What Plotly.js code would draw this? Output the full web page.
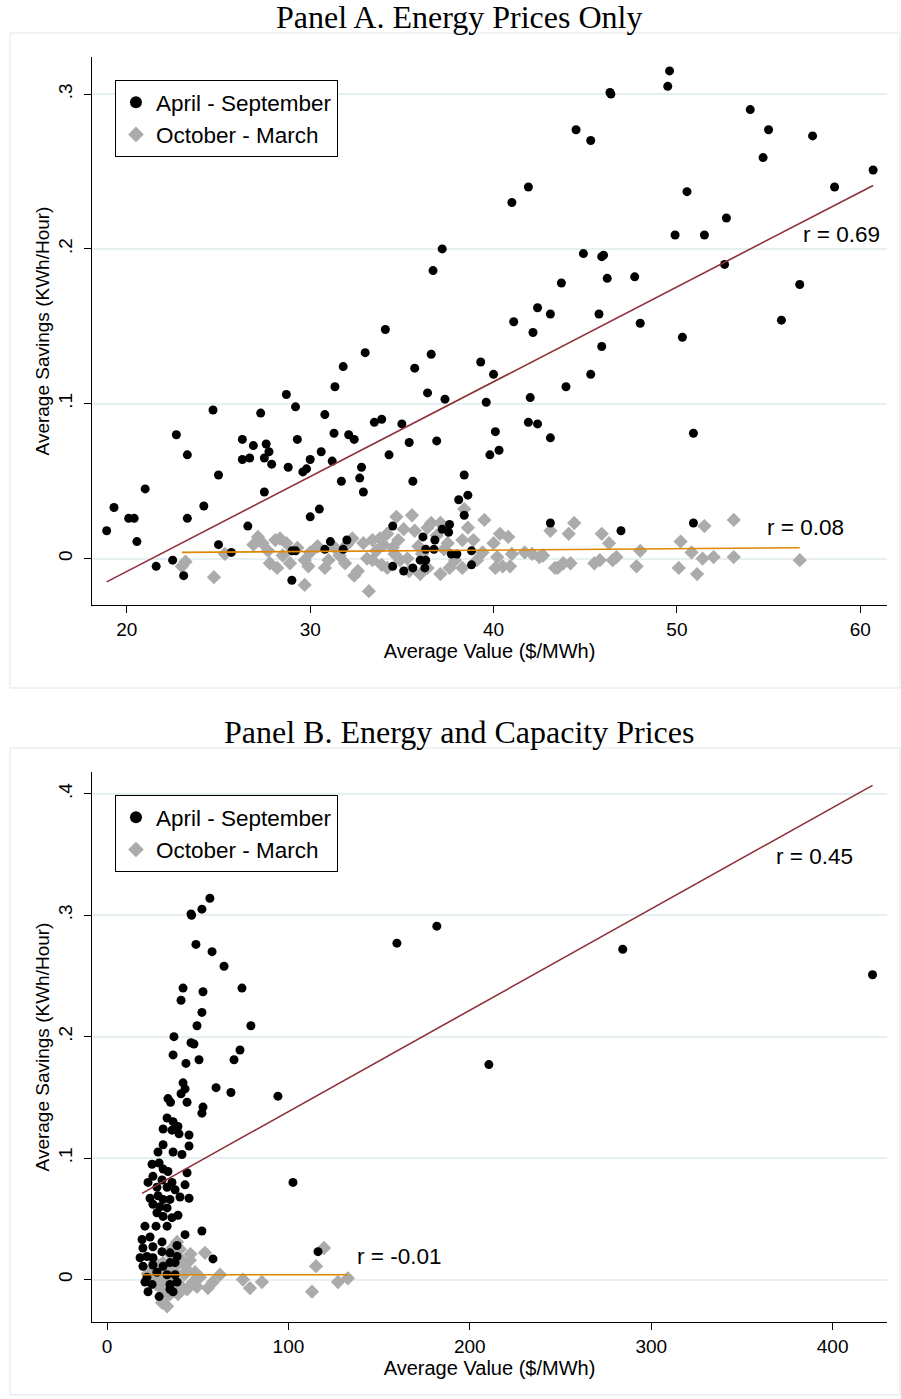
<!DOCTYPE html>
<html>
<head>
<meta charset="utf-8">
<script src="https://cdn.plot.ly/plotly-3.0.1.min.js"></script>
<style>
  body { margin: 0; background: #fff; }
  #chart { width: 901px; height: 1399px; }
</style>
</head>
<body>
<div id="chart"></div>
<script>
'use strict';

var seasonNames = ['April - September', 'October - March'];

// Panel A: energy prices only
var aSummerX = [18.9, 19.3, 20.1, 20.4, 20.55, 21.0, 21.6, 22.5, 23.1, 22.7, 23.3, 24.7, 23.3, 24.2, 25.0, 25.0, 25.7, 26.6, 27.5,
  26.3, 26.9, 26.3, 26.7, 27.6, 27.75, 27.5, 27.9, 27.3, 28.7, 29.2, 30.8, 31.35, 28.8, 29.3, 30.0, 29.6, 29.8, 30.6, 31.2, 31.3,
  32.1, 32.4, 31.7, 30.5, 30.0, 31.1, 30.8, 31.8, 32.0, 29.0, 29.2, 29.0, 37.2, 36.7, 34.1, 33.0, 31.8, 36.6, 35.7, 36.4, 37.35,
  39.3, 40.0, 42.15, 43.95, 42.0, 39.6, 33.5, 33.9, 35.0, 35.4, 36.9, 34.3, 32.8, 32.7, 32.9, 35.6, 38.4, 38.6, 38.1, 40.1, 39.8,
  40.3, 41.9, 42.4, 43.1, 49.6, 49.5, 46.35, 46.4, 44.5, 45.3, 54.0, 55.0, 54.7, 57.4, 60.7, 58.6, 41.9, 41.0, 50.55, 49.9, 51.5,
  52.7, 52.6, 56.7, 55.7, 44.9, 45.9, 46.0, 43.7, 46.2, 47.7, 41.1, 42.4, 43.1, 45.75, 48.0, 45.9, 50.3, 45.3, 50.9, 50.9, 46.95,
  43.1, 38.4, 34.5, 36.15, 36.8, 37.2, 37.6, 37.55, 36.3, 36.75, 36.0, 36.3, 34.5, 35.1, 35.6, 36.25, 37.7, 38.0, 38.8, 38.8];
var aSummerY = [0.018, 0.033, 0.026, 0.026, 0.011, 0.045, -0.005, -0.001, -0.011, 0.080, 0.067, 0.096, 0.026, 0.034, 0.054, 0.009,
  0.004, 0.021, 0.043, 0.077, 0.073, 0.064, 0.065, 0.074, 0.069, 0.065, 0.061, 0.094, 0.106, 0.098, 0.093, 0.111, 0.059, 0.077,
  0.064, 0.056, 0.058, 0.069, 0.063, 0.081, 0.080, 0.077, 0.050, 0.032, 0.027, 0.011, 0.006, 0.006, 0.012, 0.005, 0.005, -0.014,
  0.200, 0.186, 0.148, 0.133, 0.124, 0.132, 0.123, 0.107, 0.103, 0.127, 0.119, 0.146, 0.111, 0.104, 0.101, 0.088, 0.090, 0.087,
  0.075, 0.076, 0.067, 0.059, 0.052, 0.043, 0.050, 0.054, 0.041, 0.038, 0.082, 0.067, 0.070, 0.088, 0.087, 0.078, 0.315, 0.305,
  0.301, 0.300, 0.277, 0.270, 0.290, 0.277, 0.259, 0.273, 0.251, 0.240, 0.240, 0.230, 0.237, 0.209, 0.209, 0.220, 0.190, 0.177,
  0.154, 0.197, 0.195, 0.196, 0.178, 0.181, 0.182, 0.153, 0.162, 0.158, 0.158, 0.152, 0.137, 0.143, 0.119, 0.081, 0.023, 0.018,
  0.023, 0.028, 0.021, 0.014, 0.012, 0.019, 0.022, 0.017, 0.006, 0.006, -0.001, -0.001, -0.005, -0.008, -0.006, -0.006, 0.003,
  0.003, 0.005, -0.004];

var aWinterX = [23.0, 23.2, 24.75, 25.35, 27.15, 27.4, 27.7, 28.1, 28.35, 28.7, 27.8, 28.2, 28.9, 29.7, 29.9, 29.7, 30.4, 31.0,
  30.8, 31.35, 32.3, 32.4, 32.0, 32.6, 33.2, 32.9, 33.4, 33.1, 33.4, 33.8, 34.2, 34.7, 34.5, 34.2, 34.9, 35.3, 35.55, 35.7, 36.4,
  36.6, 37.1, 36.4, 37.1, 37.6, 37.9, 38.3, 38.4, 38.3, 38.9, 39.1, 39.5, 40.0, 40.35, 40.8, 40.2, 40.1, 40.5, 40.9, 41.0, 41.7,
  42.1, 42.5, 42.7, 43.1, 43.35, 43.5, 43.8, 44.2, 44.1, 44.4, 45.9, 46.3, 45.5, 45.8, 46.5, 46.7, 47.8, 48.0, 50.1, 50.2, 50.8,
  51.1, 51.4, 51.5, 52.0, 53.1, 53.1, 56.7, 33.6, 34.0, 34.8, 35.1, 35.9, 36.1, 36.9, 37.3, 35.4, 36.0, 34.6, 33.9, 31.6, 30.0,
  29.3, 28.5, 26.9, 31.9, 38.6, 39.4, 37.5];
var aWinterY = [-0.005, -0.002, -0.012, 0.003, 0.014, 0.010, 0.005, 0.012, 0.013, 0.010, -0.003, -0.006, -0.003, -0.001, -0.005,
  -0.017, 0.008, -0.001, -0.006, 0.007, 0.013, -0.011, 0.009, -0.008, -0.021, 0.010, 0.012, 0.000, -0.001, 0.013, 0.016, 0.027,
  0.007, -0.006, -0.001, 0.000, 0.028, 0.018, 0.020, 0.023, 0.023, -0.006, -0.010, -0.006, -0.001, -0.006, 0.032, 0.012, 0.012,
  -0.001, 0.025, 0.010, 0.016, 0.014, 0.001, -0.006, -0.005, -0.005, 0.003, 0.004, 0.003, 0.001, 0.002, 0.018, -0.006, -0.006,
  -0.003, -0.003, 0.016, 0.023, 0.016, 0.010, -0.003, -0.001, -0.001, 0.001, -0.005, 0.005, -0.006, 0.011, 0.004, -0.010, 0.000,
  0.021, 0.001, 0.025, 0.001, -0.001, 0.005, 0.009, 0.012, 0.019, 0.008, 0.003, 0.015, 0.006, -0.008, -0.010, 0.003, -0.004,
  0.002, 0.004, 0.007, 0.002, 0.009, -0.003, 0.020, 0.004, 0.010];

// fitted lines
var aSummerFitX = [18.9, 60.7];
var aSummerFitY = [-0.015, 0.241];
var aWinterFitX = [23.0, 56.7];
var aWinterFitY = [0.004, 0.007];

// Panel B: energy and capacity prices
var bSummerX = [56.7, 52.3, 46.3, 46.6, 49.0, 57.9, 64.5, 41.9, 52.9, 74.4, 40.8, 52.3, 49.6, 79.3, 36.9, 46.3, 47.9, 73.3, 36.4,
  43.5, 50.7, 70.0, 41.9, 43.0, 40.8, 60.1, 68.3, 94.2, 33.6, 35.0, 44.1, 52.9, 52.3, 33.1, 36.4, 39.1, 30.9, 35.8, 39.7, 45.2,
  30.9, 45.2, 36.4, 41.3, 28.1, 24.8, 28.7, 30.9, 33.6, 44.1, 25.3, 30.3, 22.6, 35.8, 43.0, 27.5, 33.1, 37.5, 23.7, 28.1, 30.9,
  34.7, 40.2, 45.2, 25.3, 29.2, 33.1, 27.5, 30.9, 35.8, 39.1, 20.9, 27.0, 33.1, 43.0, 52.3, 19.3, 23.7, 30.3, 19.8, 25.3, 30.3,
  34.7, 18.2, 22.0, 25.3, 38.6, 38.6, 37.5, 58.4, 19.8, 25.3, 30.9, 34.7, 22.0, 27.5, 33.1, 37.5, 20.9, 24.8, 34.7, 38.6, 22.6,
  34.7, 36.4, 28.7, 102.5, 159.8, 181.8, 210.5, 284.3, 422.0, 116.3];
var bSummerY = [0.314, 0.305, 0.301, 0.300, 0.276, 0.270, 0.258, 0.240, 0.237, 0.240, 0.230, 0.220, 0.209, 0.209, 0.200, 0.195,
  0.194, 0.189, 0.185, 0.178, 0.181, 0.181, 0.162, 0.157, 0.153, 0.158, 0.154, 0.151, 0.149, 0.146, 0.146, 0.142, 0.137, 0.133,
  0.130, 0.126, 0.124, 0.123, 0.120, 0.119, 0.111, 0.110, 0.105, 0.103, 0.105, 0.095, 0.096, 0.091, 0.089, 0.088, 0.085, 0.082,
  0.080, 0.080, 0.078, 0.076, 0.076, 0.074, 0.067, 0.069, 0.066, 0.066, 0.068, 0.067, 0.062, 0.060, 0.059, 0.055, 0.052, 0.051,
  0.053, 0.044, 0.044, 0.044, 0.037, 0.040, 0.033, 0.035, 0.031, 0.026, 0.027, 0.023, 0.022, 0.018, 0.019, 0.018, 0.028, 0.019,
  0.014, 0.017, 0.011, 0.012, 0.011, 0.014, 0.002, 0.006, 0.004, 0.004, -0.002, -0.004, -0.004, -0.002, -0.010, -0.008, -0.010,
  -0.014, 0.080, 0.277, 0.291, 0.177, 0.272, 0.251, 0.023];

var bWinterX = [54.0, 55.6, 49.6, 62.3, 58.4, 74.9, 78.8, 85.4, 33.1, 30.3, 45.7, 40.2, 38.6, 26.4, 30.9, 44.1, 51.2, 47.4, 30.3,
  34.7, 25.3, 41.3, 36.4, 29.2, 24.8, 39.1, 44.1, 113.0, 115.2, 119.6, 127.3, 132.8, 35.5, 37.0, 42.5, 28.0, 32.0, 36.0, 40.5,
  31.5, 43.0, 48.5, 27.0, 33.5, 22.5, 38.0, 46.0];
var bWinterY = [0.022, -0.007, -0.006, 0.004, -0.002, 0.000, -0.007, -0.002, -0.022, -0.019, 0.016, 0.025, 0.031, 0.014, 0.014,
  0.008, 0.002, -0.002, -0.008, -0.012, 0.002, 0.016, -0.002, -0.002, 0.010, -0.012, -0.008, -0.010, 0.011, 0.026, -0.002, 0.001,
  0.020, 0.010, 0.004, 0.006, 0.000, 0.026, -0.005, -0.015, 0.012, 0.006, -0.004, 0.008, 0.005, 0.005, 0.021];

var bSummerFitX = [19.3, 422.0];
var bSummerFitY = [0.071, 0.407];
var bWinterFitX = [19.3, 132.8];
var bWinterFitY = [0.004, 0.004];

var rLabels = ['r = 0.69', 'r = 0.08', 'r = 0.45', 'r = -0.01'];

var black = '#000000';
var grey = '#ababab';
var maroon = '#8e3138';
var orange = '#e08600';

function winterTrace(x, y, xa, ya, leg) {
  return {
    x: x, y: y, xaxis: xa, yaxis: ya, type: 'scatter', mode: 'markers',
    name: seasonNames[1], legend: leg, legendrank: 2,
    marker: { symbol: 'diamond', size: 11, color: grey }
  };
}
function summerTrace(x, y, xa, ya, leg) {
  return {
    x: x, y: y, xaxis: xa, yaxis: ya, type: 'scatter', mode: 'markers',
    name: seasonNames[0], legend: leg, legendrank: 1,
    marker: { symbol: 'circle', size: 9, color: black }
  };
}
function fitTrace(x, y, xa, ya, col) {
  return {
    x: x, y: y, xaxis: xa, yaxis: ya, type: 'scatter', mode: 'lines',
    showlegend: false, hoverinfo: 'skip',
    line: { color: col, width: 1.6 }
  };
}

var data = [
  winterTrace(aWinterX, aWinterY, 'x', 'y', 'legend'),
  summerTrace(aSummerX, aSummerY, 'x', 'y', 'legend'),
  fitTrace(aSummerFitX, aSummerFitY, 'x', 'y', maroon),
  fitTrace(aWinterFitX, aWinterFitY, 'x', 'y', orange),
  winterTrace(bWinterX, bWinterY, 'x2', 'y2', 'legend2'),
  summerTrace(bSummerX, bSummerY, 'x2', 'y2', 'legend2'),
  fitTrace(bSummerFitX, bSummerFitY, 'x2', 'y2', maroon),
  fitTrace(bWinterFitX, bWinterFitY, 'x2', 'y2', orange)
];

var tickFont = { size: 19, color: '#000' };
var gridCol = '#e6eff2';

function xAxis(dom, anchor, range, vals) {
  return {
    domain: dom, anchor: anchor, range: range, tickvals: vals,
    ticks: 'outside', ticklen: 7, tickcolor: '#000', showline: true, linecolor: '#000', linewidth: 1,
    showgrid: false, zeroline: false, tickfont: tickFont,
    title: { text: 'Average Value ($/MWh)', font: { size: 20 }, standoff: 2 }
  };
}
function yAxis(dom, anchor, range, vals, txt) {
  return {
    domain: dom, anchor: anchor, range: range, tickvals: vals, ticktext: txt, tickangle: -90,
    ticks: 'outside', ticklen: 7, tickcolor: '#000', showline: true, linecolor: '#000', linewidth: 1,
    ticklabelstandoff: 4,
    showgrid: true, gridcolor: gridCol, gridwidth: 2, zeroline: false, tickfont: tickFont,
    title: { text: 'Average Savings (KWh/Hour)', font: { size: 19 }, standoff: 0 }
  };
}

var legendBase = {
  x: 0.1276, xanchor: 'left', yanchor: 'top', bgcolor: '#fff', bordercolor: '#000', borderwidth: 1,
  font: { size: 22.5, color: '#000' }, itemsizing: 'constant', itemwidth: 30
};

var titleFont = { family: 'Liberation Serif, serif', size: 32 };
var rFont = { size: 22.5 };

var layout = {
  width: 901, height: 1399,
  margin: { l: 0, r: 0, t: 0, b: 0 },
  paper_bgcolor: '#fff', plot_bgcolor: '#fff',
  font: { family: 'Liberation Sans, Arial, sans-serif', color: '#000' },
  xaxis: xAxis([0.1021, 0.9845], 'y', [18.1, 61.46], [20, 30, 40, 50, 60]),
  yaxis: yAxis([0.5675, 0.9593], 'x', [-0.030, 0.324], [0, 0.1, 0.2, 0.3], ['0', '.1', '.2', '.3']),
  xaxis2: xAxis([0.1021, 0.9845], 'y2', [-8.3, 430], [0, 100, 200, 300, 400]),
  yaxis2: yAxis([0.0550, 0.4482], 'x2', [-0.035, 0.418], [0, 0.1, 0.2, 0.3, 0.4], ['0', '.1', '.2', '.3', '.4']),
  legend: Object.assign({}, legendBase, { y: 0.9428 }),
  legend2: Object.assign({}, legendBase, { y: 0.4317 }),
  shapes: [
    { type: 'rect', xref: 'paper', yref: 'paper', x0: 0.0111, x1: 0.9989, y0: 0.5082, y1: 0.9764,
      line: { color: '#dde7ec', width: 1 }, layer: 'below' },
    { type: 'rect', xref: 'paper', yref: 'paper', x0: 0.0111, x1: 0.9989, y0: 0.0029, y1: 0.4653,
      line: { color: '#dde7ec', width: 1 }, layer: 'below' }
  ],
  annotations: [
    { text: 'Panel A. Energy Prices Only', xref: 'paper', yref: 'paper', x: 0.509, y: 0.9878,
      xanchor: 'center', yanchor: 'middle', showarrow: false, font: titleFont },
    { text: 'Panel B. Energy and Capacity Prices', xref: 'paper', yref: 'paper', x: 0.509, y: 0.4768,
      xanchor: 'center', yanchor: 'middle', showarrow: false, font: titleFont },
    { text: rLabels[0], xref: 'x', yref: 'y', x: 58.95, y: 0.209, showarrow: false, font: rFont },
    { text: rLabels[1], xref: 'x', yref: 'y', x: 57.0, y: 0.020, showarrow: false, font: rFont },
    { text: rLabels[2], xref: 'x2', yref: 'y2', x: 390, y: 0.348, showarrow: false, font: rFont },
    { text: rLabels[3], xref: 'x2', yref: 'y2', x: 161, y: 0.019, showarrow: false, font: rFont }
  ]
};

Plotly.newPlot('chart', data, layout, { displayModeBar: false, staticPlot: true });
</script>
</body>
</html>
